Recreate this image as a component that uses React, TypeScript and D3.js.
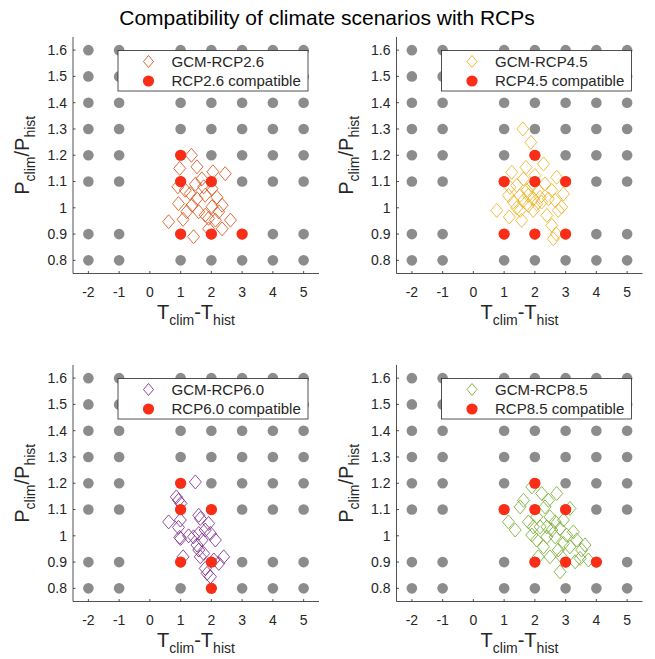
import React from "react";
import * as d3 from "d3";

// tick values
const xTicks = [-2, -1, 0, 1, 2, 3, 4, 5];
const yTicks = [0.8, 0.9, 1, 1.1, 1.2, 1.3, 1.4, 1.5, 1.6];

// grid of tested climate scenarios (grey dots)
const gridT = [-2, -1, 1, 2, 3, 4, 5];
const gridP = [0.8, 0.9, 1.1, 1.2, 1.3, 1.4, 1.5, 1.6];

// GCM projections [T, P]
const gcm26 = [
  [1.35, 1.2], [0.97, 1.15], [1.53, 1.156], [2.05, 1.137], [2.45, 1.13], [0.91, 1.08],
  [1.15, 1.067], [1.31, 1.054], [1.69, 1.11], [1.53, 1.035], [1.8, 1.048], [1.37, 1.01],
  [1.2, 0.985], [1.59, 0.985], [2.02, 1.073], [2.18, 1.04], [2.02, 1.004], [2.24, 0.985],
  [2.35, 1.01], [2.13, 0.953], [1.08, 0.956], [0.93, 1.016], [1.8, 0.972], [0.61, 0.947],
  [1.42, 0.89], [2.35, 0.92], [2.62, 0.953], [1.91, 0.96], [1.48, 1.09], [1.75, 1.08],
  [1.91, 0.92],
];
const gcm45 = [
  [1.61, 1.3], [1.87, 1.249], [1.25, 1.135], [1.71, 1.154], [2.28, 1.167], [2.71, 1.116],
  [0.76, 0.99], [1.17, 0.965], [1.41, 1.0], [1.52, 1.047], [1.74, 1.066], [1.95, 1.034],
  [2.11, 1.066], [2.33, 1.091], [2.55, 1.066], [2.44, 1.034], [2.93, 1.053], [2.87, 1.003],
  [2.39, 0.971], [1.57, 0.952], [2.55, 0.933], [2.69, 0.901], [2.6, 0.882], [1.3, 1.022],
  [1.63, 1.028], [1.79, 1.009], [2.06, 1.015], [2.22, 1.022], [2.66, 1.028], [1.9, 1.085],
  [1.14, 1.047], [1.41, 1.085], [1.63, 1.11], [2.0, 1.123], [2.76, 0.99], [1.19, 1.078],
  [1.95, 0.99], [1.52, 0.99], [1.79, 1.047], [2.17, 1.04],
];
const gcm60 = [
  [1.48, 1.205], [0.86, 1.148], [0.93, 1.135], [1.01, 1.123], [0.61, 1.053], [0.99, 1.06],
  [0.93, 1.032], [0.97, 0.994], [1.0, 0.99], [1.08, 0.92], [1.59, 1.078], [1.64, 1.066],
  [1.91, 1.047], [1.8, 1.022], [1.97, 1.009], [1.26, 1.0], [1.42, 0.996], [1.59, 1.009],
  [1.7, 0.984], [1.53, 0.965], [1.59, 0.946], [1.75, 0.933], [1.64, 0.92], [2.13, 0.984],
  [2.4, 0.92], [2.24, 0.895], [1.8, 0.876], [1.86, 0.857], [1.97, 0.844], [2.08, 0.908],
];
const gcm85 = [
  [1.9, 1.186], [2.22, 1.161], [1.63, 1.135], [1.52, 1.11], [2.44, 1.135], [2.71, 1.161],
  [2.33, 1.11], [3.14, 1.104], [1.14, 1.053], [1.36, 1.022], [1.79, 1.053], [2.06, 1.072],
  [2.17, 1.034], [2.49, 1.072], [2.66, 1.053], [2.82, 1.028], [2.93, 1.06], [2.55, 1.022],
  [2.39, 0.996], [1.9, 1.003], [2.06, 0.984], [2.66, 0.996], [3.03, 1.003], [3.25, 1.015],
  [3.36, 0.984], [2.93, 0.971], [3.14, 0.958], [3.52, 0.946], [3.63, 0.965], [2.76, 0.946],
  [2.49, 0.92], [2.87, 0.92], [3.47, 0.914], [3.74, 0.908], [2.82, 0.863], [3.31, 0.901],
  [2.28, 0.958], [1.95, 1.034], [2.39, 1.034], [2.11, 0.92],
];

// compatible scenarios (red dots)
const compat26 = [[1, 1.2], [1, 1.1], [2, 1.1], [1, 0.9], [2, 0.9], [3, 0.9]];
const compat45 = [[2, 1.2], [1, 1.1], [2, 1.1], [3, 1.1], [1, 0.9], [2, 0.9], [3, 0.9]];
const compat60 = [[1, 1.2], [1, 1.1], [2, 1.1], [1, 0.9], [2, 0.9], [2, 0.8]];
const compat85 = [[2, 1.2], [1, 1.1], [2, 1.1], [3, 1.1], [2, 0.9], [3, 0.9], [4, 0.9]];

const FONT = "'Liberation Sans', Arial, Helvetica, sans-serif";
const AX = "#262626";
const W = 655;
const H = 659;
const PW = 246;
const PH = 236.5;

const panels = [
  { name: "RCP2.6", color: "#d95319", gcm: gcm26, compat: compat26, left: 73, top: 37 },
  { name: "RCP4.5", color: "#edb120", gcm: gcm45, compat: compat45, left: 396.5, top: 37 },
  { name: "RCP6.0", color: "#7e2f8e", gcm: gcm60, compat: compat60, left: 73, top: 365 },
  { name: "RCP8.5", color: "#77ac30", gcm: gcm85, compat: compat85, left: 396.5, top: 365 },
];

const diamond = "M0,-7L6,0L0,7L-6,0Z";

const Panel = ({ p }) => {
  const x = d3.scaleLinear().domain([-2.5, 5.5]).range([0, PW]);
  const y = d3.scaleLinear().domain([0.75, 1.65]).range([PH, 0]);
  const grid = d3.cross(gridT, gridP);
  const lx = PW - 201;
  const ly = 13.5;

  return (
    <g transform={`translate(${p.left},${p.top})`}>
      {/* axes */}
      <line x1={0} x2={0} y1={0} y2={PH} stroke={AX} strokeWidth={0.8} />
      <line x1={0} x2={PW} y1={PH} y2={PH} stroke={AX} strokeWidth={0.8} />
      {xTicks.map((t) => (
        <g key={t}>
          <line x1={x(t)} x2={x(t)} y1={PH} y2={PH - 2.5} stroke={AX} strokeWidth={0.8} />
          <text x={x(t)} y={PH + 23.5} textAnchor="middle" fontSize={14} fill={AX}>
            {t}
          </text>
        </g>
      ))}
      {yTicks.map((t) => (
        <g key={t}>
          <line x1={0} x2={2.5} y1={y(t)} y2={y(t)} stroke={AX} strokeWidth={0.8} />
          <text x={-6} y={y(t)} dy="0.35em" textAnchor="end" fontSize={14} fill={AX}>
            {t}
          </text>
        </g>
      ))}

      {/* axis labels */}
      <text x={PW / 2} y={PH + 45.5} textAnchor="middle" fontSize={20} fill={AX}>
        <tspan>T</tspan>
        <tspan fontSize={14} dy={6}>clim</tspan>
        <tspan dy={-6}>-T</tspan>
        <tspan fontSize={14} dy={6}>hist</tspan>
      </text>
      <text transform={`translate(-44,${PH / 2}) rotate(-90)`} textAnchor="middle" fontSize={20} fill={AX}>
        <tspan>P</tspan>
        <tspan fontSize={14} dy={6}>clim</tspan>
        <tspan dy={-6}>/P</tspan>
        <tspan fontSize={14} dy={6}>hist</tspan>
      </text>

      {/* scenario grid */}
      {grid.map(([t, v], i) => (
        <circle key={i} cx={x(t)} cy={y(v)} r={5.3} fill="#8c8c8c" />
      ))}
      {/* GCMs */}
      {p.gcm.map(([t, v], i) => (
        <path key={i} d={diamond} transform={`translate(${x(t)},${y(v)})`} fill="none" stroke={p.color} strokeWidth={0.85} />
      ))}
      {/* compatible */}
      {p.compat.map(([t, v], i) => (
        <circle key={i} cx={x(t)} cy={y(v)} r={5.6} fill="#fa2d17" />
      ))}

      {/* legend */}
      <g transform={`translate(${lx},${ly})`}>
        <rect width={190} height={40.5} fill="#fff" stroke={AX} strokeWidth={0.8} />
        <path d="M0,-6L5,0L0,6L-5,0Z" transform="translate(30.5,11)" fill="none" stroke={p.color} strokeWidth={0.9} />
        <circle cx={30.5} cy={30.5} r={5.6} fill="#fa2d17" />
        <text x={53.5} y={11} dy="0.35em" fontSize={15} fill={AX}>
          {`GCM-${p.name}`}
        </text>
        <text x={53.5} y={30.5} dy="0.35em" fontSize={15} fill={AX}>
          {`${p.name} compatible`}
        </text>
      </g>
    </g>
  );
};

export default function App() {
  return (
    <svg
      width={W}
      height={H}
      style={{ position: "absolute", left: 0, top: 0, background: "#fff" }}
      fontFamily={FONT}
    >
      <rect width={W} height={H} fill="#fff" />
      <text x={327} y={24.5} textAnchor="middle" fontSize={21} fill="#000">
        Compatibility of climate scenarios with RCPs
      </text>
      {panels.map((p) => (
        <Panel key={p.name} p={p} />
      ))}
    </svg>
  );
}
